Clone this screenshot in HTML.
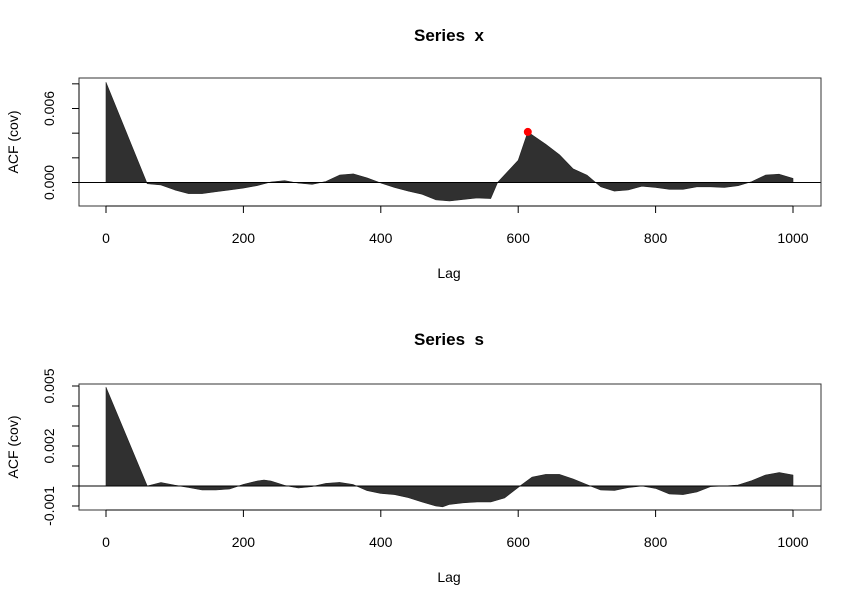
<!DOCTYPE html>
<html><head><meta charset="utf-8"><style>
body{margin:0;background:#fff}
svg text{font-family:"Liberation Sans",Arial,sans-serif;fill:#000;white-space:pre}
</style></head><body>
<svg id="chart" width="861" height="609" xmlns="http://www.w3.org/2000/svg"></svg>
<script>
const lagsX=[0,60,80,100,120,140,160,180,200,220,240,260,280,300,320,340,360,380,400,420,440,460,480,500,520,540,560,570,580,600,614,640,660,680,700,720,740,760,780,800,820,840,860,880,900,920,940,960,980,1000];
const acfX=[0.00812,-0.0001,-0.0002,-0.0006,-0.0009,-0.0009,-0.00075,-0.0006,-0.00045,-0.00025,0.00004,0.00015,-0.00005,-0.00015,0.00008,0.0006,0.0007,0.00037,-0.00004,-0.0004,-0.0007,-0.00095,-0.0014,-0.0015,-0.00137,-0.00125,-0.0013,0,0.0006,0.0018,0.0041,0.0031,0.00225,0.0011,0.0006,-0.00034,-0.0007,-0.0006,-0.0003,-0.0004,-0.00055,-0.00055,-0.00035,-0.00035,-0.0004,-0.00026,0.00007,0.0006,0.00067,0.00033];
const lagsS=[0,60,80,100,120,140,160,180,200,220,230,240,260,280,300,320,340,360,380,400,420,440,460,480,490,500,520,540,560,580,600,620,640,660,680,700,720,740,760,780,800,820,840,860,880,900,920,940,960,980,1000];
const acfS=[0.00494,0,0.00017,0.00004,-0.00007,-0.0002,-0.0002,-0.00015,0.00008,0.00025,0.0003,0.00025,0.00003,-0.0001,-0.00003,0.00013,0.00018,0.00007,-0.00023,-0.00037,-0.00043,-0.00058,-0.0008,-0.001,-0.00104,-0.00092,-0.00084,-0.0008,-0.0008,-0.0006,-0.00007,0.00044,0.00058,0.00058,0.00035,0.00007,-0.0002,-0.00022,-0.00008,0,-0.00012,-0.0004,-0.00043,-0.0003,-0.00003,0,0.00005,0.00027,0.00055,0.00067,0.00055];
const xTicks=[0,200,400,600,800,1000];
const yTicksX=[0,0.002,0.004,0.006,0.008];
const yLabelsX=["0.000","","","0.006",""];
const yTicksS=[-0.001,0,0.001,0.002,0.003,0.004,0.005];
const yLabelsS=["-0.001","","","0.002","","","0.005"];
const peakLag=614, peakVal=0.0041;

const svg=document.getElementById('chart');
const NS='http://www.w3.org/2000/svg';
function mk(tag,attrs,parent){const e=document.createElementNS(NS,tag);for(const k in attrs)e.setAttribute(k,attrs[k]);(parent||svg).appendChild(e);return e;}
const xs=l=>106+l*0.687;

function panel(cfg){
  const g=mk('g',{});
  
  
  const ys=v=>cfg.zeroY-v*cfg.ppu;
  const t=mk('text',{x:449,y:cfg.titleY,'text-anchor':'middle','font-size':17,'font-weight':'bold','xml:space':'preserve'},g);t.textContent=cfg.title;
  
  
  let pts=`${xs(cfg.lags[0])},${ys(0)} `+cfg.lags.map((l,i)=>`${xs(l)},${ys(cfg.vals[i])}`).join(' ')+` ${xs(cfg.lags[cfg.lags.length-1])},${ys(0)}`;
  const p=mk('polygon',{points:pts,fill:'#303030',stroke:'#222','stroke-width':0.6,'stroke-linejoin':'round'},g);
  
  
  const z=mk('line',{x1:79,x2:821,y1:ys(0),y2:ys(0),stroke:'#000','stroke-width':1},g);
  
  
  const b=mk('rect',{x:79,y:cfg.top,width:742,height:cfg.bottom-cfg.top,fill:'none',stroke:'#333','stroke-width':1},g);
  
  
  const xa=mk('g',{},g);
  
  
  mk('line',{x1:xs(0),x2:xs(1000),y1:cfg.bottom,y2:cfg.bottom,stroke:'#000'},xa);
  xTicks.forEach(v=>{
    mk('line',{x1:xs(v),x2:xs(v),y1:cfg.bottom,y2:cfg.bottom+7,stroke:'#000'},xa);
    const tt=mk('text',{x:xs(v),y:cfg.bottom+37,'text-anchor':'middle','font-size':14},xa);tt.textContent=v;
    
    
  });
  const xl=mk('text',{x:449,y:cfg.bottom+72,'text-anchor':'middle','font-size':14},g);xl.textContent='Lag';
  
  
  const ya=mk('g',{},g);
  
  
  mk('line',{x1:79,x2:79,y1:ys(cfg.yt[0]),y2:ys(cfg.yt[cfg.yt.length-1]),stroke:'#000'},ya);
  cfg.yt.forEach((v,i)=>{
    mk('line',{x1:72,x2:79,y1:ys(v),y2:ys(v),stroke:'#000'},ya);
    if(cfg.yl[i]){
      const tt=mk('text',{x:0,y:0,'text-anchor':'middle','font-size':14,transform:`translate(54,${ys(v)}) rotate(-90)`},ya);tt.textContent=cfg.yl[i];
      
      
    }
  });
  const yl=mk('text',{x:0,y:0,'text-anchor':'middle','font-size':14,transform:`translate(18,${(cfg.top+cfg.bottom)/2}) rotate(-90)`},g);yl.textContent='ACF (cov)';
  
  
  return ys;
}
const ysX=panel({name:'series-x-panel',title:'Series  x',titleY:41,top:78,bottom:206,zeroY:182.5,ppu:12333,lags:lagsX,vals:acfX,yt:yTicksX,yl:yLabelsX});
panel({name:'series-s-panel',title:'Series  s',titleY:345,top:384,bottom:510,zeroY:486,ppu:20000,lags:lagsS,vals:acfS,yt:yTicksS,yl:yLabelsS});
const dot=mk('circle',{cx:xs(peakLag),cy:ysX(peakVal),r:4,fill:'#ff0000'});


</script>
</body></html>
